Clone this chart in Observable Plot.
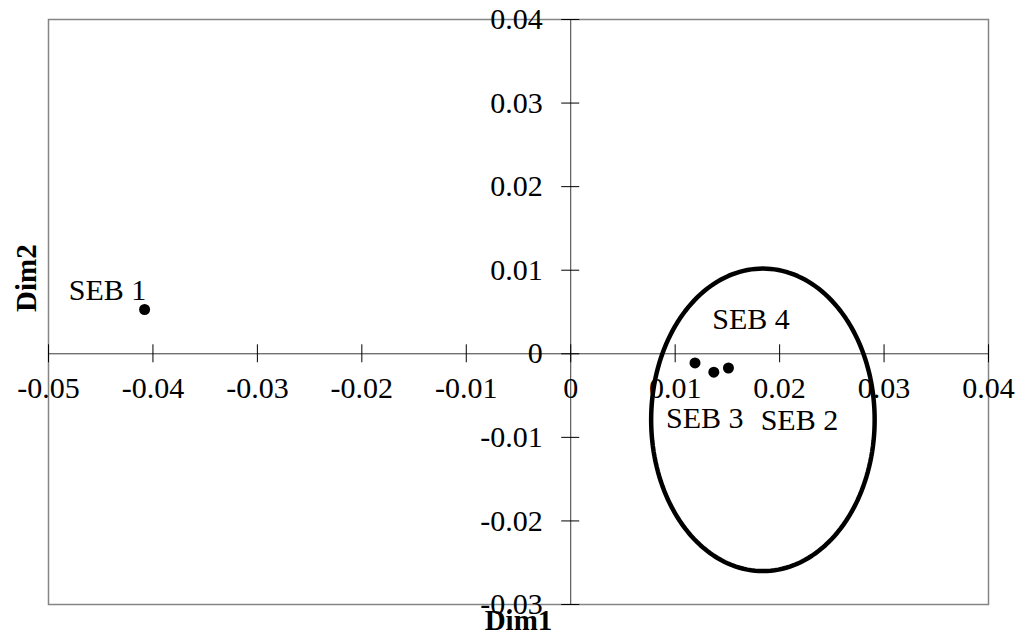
<!DOCTYPE html>
<html>
<head>
<meta charset="utf-8">
<script src="https://cdn.jsdelivr.net/npm/d3@7"></script>
<script src="https://cdn.jsdelivr.net/npm/@observablehq/plot@0.6"></script>
<style>
  html, body { margin: 0; padding: 0; background: #fff; }
</style>
</head>
<body>
<div id="chart"></div>
<script>
// Data
const names = ["SEB 1", "SEB 2", "SEB 3", "SEB 4"];
const dim1 = [-0.0408, 0.0151, 0.0137, 0.0119];
const dim2 = [0.0053, -0.0017, -0.0022, -0.0011];
const xTicks = [-0.05, -0.04, -0.03, -0.02, -0.01, 0, 0.01, 0.02, 0.03, 0.04];
const yTicks = [-0.03, -0.02, -0.01, 0, 0.01, 0.02, 0.03, 0.04];
const xTickLabels = ["-0.05", "-0.04", "-0.03", "-0.02", "-0.01", "0", "0.01", "0.02", "0.03", "0.04"];
const yTickLabels = ["-0.03", "-0.02", "-0.01", "0", "0.01", "0.02", "0.03", "0.04"];
// Confidence ellipse (centre and semi-axes, data units)
const ellipseCenter = [0.0184, -0.0079];
const ellipseRadii = [0.0107, 0.0181];

const points = names.map((name, i) => ({name, x: dim1[i], y: dim2[i]}));
const xt = xTicks.map((v, i) => ({v, label: xTickLabels[i]}));
const yt = yTicks.map((v, i) => ({v, label: yTickLabels[i]}));
const ellipse = d3.range(0, 361, 2).map(a => {
  const t = a * Math.PI / 180;
  return {x: ellipseCenter[0] + ellipseRadii[0] * Math.cos(t), y: ellipseCenter[1] + ellipseRadii[1] * Math.sin(t)};
});

// label placement relative to each point (pixels)
const labelOffsets = {"SEB 1": [-37, -19], "SEB 2": [71, 52], "SEB 3": [-9, 46], "SEB 4": [56, -44]};

const FS = 30;
const labelMarks = points.map(p => Plot.text([p], {
  x: "x", y: "y", text: "name",
  dx: labelOffsets[p.name][0], dy: labelOffsets[p.name][1],
  fontSize: FS, fill: "#000"
}));

const chart = Plot.plot({
  width: 1019,
  height: 641,
  marginLeft: 48,
  marginRight: 31,
  marginTop: 19,
  marginBottom: 37,
  style: {fontFamily: "'Liberation Serif', 'Times New Roman', serif", background: "#fff", overflow: "visible"},
  x: {domain: [-0.05, 0.04], axis: null},
  y: {domain: [-0.03, 0.04], axis: null},
  marks: [
    Plot.frame({stroke: "#858585", strokeWidth: 1.5}),
    Plot.ruleY([0], {stroke: "#3a3a3a", strokeWidth: 1}),
    Plot.ruleX([0], {stroke: "#3a3a3a", strokeWidth: 1}),
    Plot.ruleX(xt, {x: "v", y1: 0, y2: 0, insetTop: -9, insetBottom: -9, stroke: "#000", strokeWidth: 1}),
    Plot.ruleY(yt, {y: "v", x1: 0, x2: 0, insetLeft: -9, insetRight: -9, stroke: "#000", strokeWidth: 1}),
    Plot.text(xt, {x: "v", y: 0, text: "label", dy: 35, fontSize: FS, fill: "#000"}),
    Plot.text(yt, {x: 0, y: "v", text: "label", dx: -28, textAnchor: "end", fontSize: FS, fill: "#000"}),
    Plot.line(ellipse, {x: "x", y: "y", stroke: "#000", strokeWidth: 4.5, curve: "linear"}),
    Plot.dot(points, {x: "x", y: "y", r: 5.5, fill: "#000", stroke: "none"}),
    ...labelMarks,
    Plot.text(["Dim1"], {frameAnchor: "bottom", dy: 25, text: d => d, fontSize: 29, fontWeight: "bold", fill: "#000"}),
    Plot.text(["Dim2"], {frameAnchor: "left", dx: -22, rotate: -90, text: d => d, fontSize: 29, fontWeight: "bold", fill: "#000"})
  ]
});
document.getElementById("chart").appendChild(chart);
</script>
</body>
</html>
